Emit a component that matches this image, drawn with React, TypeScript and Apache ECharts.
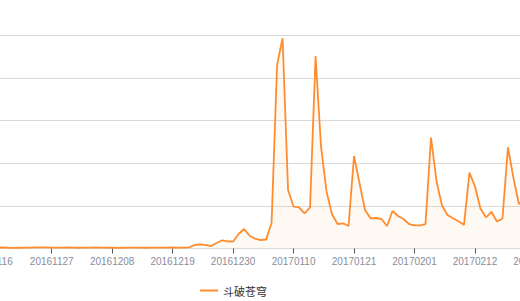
import React, { useEffect, useRef } from "react";
import * as echarts from "echarts";

const seriesName = "斗破苍穹";
const startDate = "2016-11-16";
const dayCount = 101;

const values: number[] = [
  40, 45, 50, 35, 30, 35, 40, 45, 50, 55,
  50, 45, 40, 45, 50, 40, 35, 40, 45, 50,
  45, 40, 35, 30, 35, 40, 45, 40, 35, 40,
  45, 40, 45, 50, 40, 38, 56, 164, 197, 174,
  117, 258, 385, 338, 329, 681, 916, 601, 460, 399,
  423, 1197, 8615, 9869, 2747, 1963, 1934, 1653, 1934, 9038,
  4779, 2667, 1606, 1150, 1183, 1056, 4343, 3061, 1808, 1418,
  1432, 1385, 1056, 1761, 1526, 1385, 1150, 1089, 1089, 1150,
  5211, 3169, 2019, 1573, 1418, 1277, 1113, 3559, 2920, 1864,
  1465, 1723, 1268, 1399, 4751, 3310, 2089, 2300, 2200, 1900,
  1800,
];

const yMax = 10000;
const yInterval = 2000;

function buildDates(start: string, n: number): string[] {
  const out: string[] = [];
  const d = new Date(start + "T00:00:00Z");
  for (let i = 0; i < n; i++) {
    const t = new Date(d.getTime() + i * 86400000);
    const y = t.getUTCFullYear();
    const m = String(t.getUTCMonth() + 1).padStart(2, "0");
    const dd = String(t.getUTCDate()).padStart(2, "0");
    out.push(`${y}${m}${dd}`);
  }
  return out;
}

const categories = buildDates(startDate, dayCount);

const OFFSET = 100;
const CW = 720;

export default function App() {
  const ref = useRef<HTMLDivElement>(null);
  useEffect(() => {
    if (!ref.current) return;
    const chart = echarts.init(ref.current, undefined, { renderer: "svg" });
    const step = 5.497;
    const leftX = -8.77;
    const rightX = leftX + step * (categories.length - 1);
    chart.setOption({
      animation: false,
      backgroundColor: "#ffffff",
      grid: {
        left: OFFSET + leftX,
        right: CW - (OFFSET + rightX),
        top: 35.5,
        bottom: 301 - 248.5,
        containLabel: false,
        outerBoundsMode: "none",
      },
      legend: {
        left: OFFSET + 195,
        top: 280,
        icon: "rect",
        itemWidth: 18,
        itemHeight: 2,
        itemGap: 10,
        textStyle: {
          fontFamily: "'Noto Sans CJK SC', sans-serif",
          fontSize: 11,
          color: "#333",
        },
        data: [seriesName],
      },
      xAxis: {
        type: "category",
        boundaryGap: false,
        data: categories,
        axisLine: { show: true, lineStyle: { color: "#dcdcdc", width: 1 } },
        axisTick: {
          show: true,
          interval: 10,
          length: 5,
          lineStyle: { color: "#555" },
        },
        axisLabel: {
          interval: 10,
          margin: 8,
          fontSize: 10,
          fontFamily: "'Liberation Sans', Arial, sans-serif",
          color: "#8a8d9b",
        },
        splitLine: { show: false },
      },
      yAxis: {
        type: "value",
        min: 0,
        max: yMax,
        interval: yInterval,
        axisLabel: { show: false },
        axisLine: { show: false },
        axisTick: { show: false },
        splitLine: { show: true, lineStyle: { color: "#d9d9d9", width: 1 } },
      },
      series: [
        {
          name: seriesName,
          type: "line",
          data: values,
          symbol: "none",
          smooth: false,
          lineStyle: { color: "#ff8c2f", width: 1.8 },
          itemStyle: { color: "#ff8c2f" },
          areaStyle: { color: "rgba(255,140,47,0.08)" },
        },
      ],
    });
    return () => chart.dispose();
  }, []);
  return (
    <div
      ref={ref}
      style={{ position: "fixed", left: -OFFSET, top: 0, width: CW, height: 301 }}
    />
  );
}
